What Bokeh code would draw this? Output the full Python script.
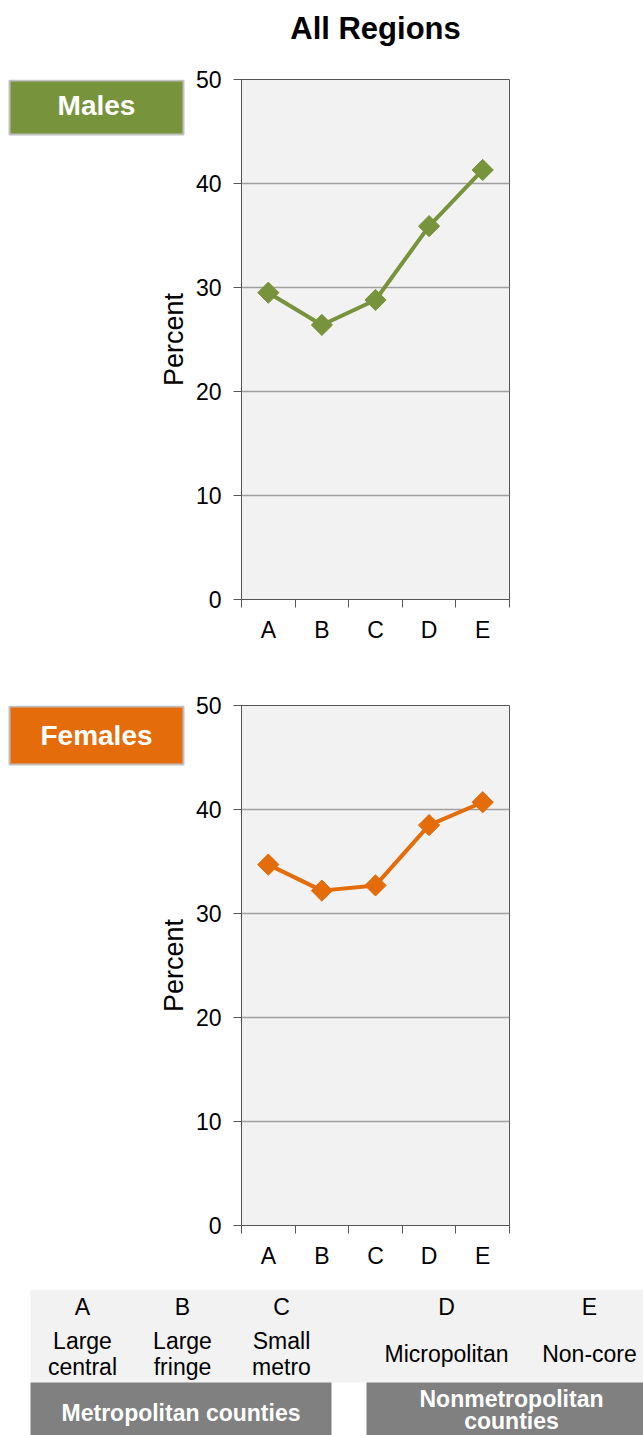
import numpy as np
from bokeh.plotting import figure
from bokeh.models import Range1d, FixedTicker
from bokeh.layouts import column, row
from bokeh.core.properties import value
from bokeh.embed import file_html
from bokeh.resources import INLINE

# ---- data ----
categories = ["A", "B", "C", "D", "E"]
males = [29.5, 26.4, 28.8, 35.9, 41.3]
females = [34.7, 32.2, 32.7, 38.5, 40.7]
y_ticks = [0, 10, 20, 30, 40, 50]
title_text = "All Regions"
panel_names = ["Males", "Females"]
y_label = "Percent"
table_letters = ["A", "B", "C", "D", "E"]
table_line1 = ["Large", "Large", "Small"]
table_line2 = ["central", "fringe", "metro"]
table_single = ["Micropolitan", "Non-core"]
group_labels = ["Metropolitan counties", "Nonmetropolitan", "counties"]

FONT = "Liberation Sans"
GREEN = "#77933c"
ORANGE = "#e46c0a"
xpos = [i + 0.5 for i in range(len(categories))]

SIDE_W = 191
HEAD_H = 60


def blank(width, height, xr, yr, top=0, bottom=0):
    f = figure(width=width, height=height, x_range=xr, y_range=yr,
               output_backend="svg", toolbar_location=None,
               x_axis_location=None, y_axis_location=None,
               min_border_left=0, min_border_right=0,
               min_border_top=top, min_border_bottom=bottom)
    f.outline_line_color = None
    f.xgrid.visible = False
    f.ygrid.visible = False
    f.background_fill_color = "white"
    f.border_fill_color = "white"
    return f


def make_side(name, color, height, top, bottom, box_top, box_bottom, box_mid):
    s = blank(SIDE_W, height, Range1d(0, SIDE_W), Range1d(0, 520), top, bottom)
    s.quad(left=[9], right=[183], top=[box_top], bottom=[box_bottom],
           fill_color=color, line_color="#c0c0c0", line_width=2)
    s.text(x=[96], y=[box_mid], text=[name], text_align="center", text_baseline="middle",
           text_font=value(FONT), text_font_size="28px", text_font_style="bold",
           text_color="white")
    s.text(x=[173], y=[260], text=[y_label], angle=np.pi / 2, text_align="center",
           text_baseline="middle", text_font=value(FONT), text_font_size="27px",
           text_color="black")
    return s


def make_chart(vals, color, height, top, bottom):
    p = figure(width=643 - SIDE_W, height=height, x_range=Range1d(0, len(categories)),
               y_range=Range1d(0, 50), output_backend="svg", toolbar_location=None,
               min_border_left=241 - SIDE_W, min_border_right=134,
               min_border_top=top, min_border_bottom=bottom)
    p.background_fill_color = "#f2f2f2"
    p.border_fill_color = "white"
    p.outline_line_color = "#555555"
    p.outline_line_width = 1

    ya = p.yaxis[0]
    ya.ticker = FixedTicker(ticks=y_ticks)
    ya.major_tick_out = 8
    ya.major_tick_in = 0
    ya.minor_tick_out = 0
    ya.minor_tick_in = 0
    ya.axis_line_color = "#555555"
    ya.major_tick_line_color = "#555555"
    ya.major_label_text_font = FONT
    ya.major_label_text_font_size = "23px"
    ya.major_label_text_color = "black"
    ya.major_label_standoff = 12

    xa = p.xaxis[0]
    xa.ticker = FixedTicker(ticks=xpos, minor_ticks=list(range(len(categories) + 1)))
    xa.major_label_overrides = {x: c for x, c in zip(xpos, categories)}
    xa.major_tick_out = 0
    xa.major_tick_in = 0
    xa.minor_tick_out = 8
    xa.minor_tick_in = 0
    xa.axis_line_color = "#555555"
    xa.minor_tick_line_color = "#555555"
    xa.major_label_text_font = FONT
    xa.major_label_text_font_size = "23px"
    xa.major_label_text_color = "black"
    xa.major_label_standoff = 9

    p.xgrid.visible = False
    p.ygrid.ticker = FixedTicker(ticks=y_ticks)
    p.ygrid.grid_line_color = "#a0a0a0"
    p.ygrid.grid_line_width = 1.5

    p.line(xpos, vals, line_width=4, line_color=color)
    p.scatter(xpos, vals, marker="square", angle=np.pi / 4, size=15,
              fill_color=color, line_color=color)
    return p


# ---- header with the title ----
h = blank(643, HEAD_H, Range1d(0, 643), Range1d(HEAD_H, 0))
h.text(x=[375], y=[28], text=[title_text], text_align="center", text_baseline="middle",
       text_font=value(FONT), text_font_size="31px", text_font_style="bold",
       text_color="black")

# frame of top chart: y 79..599 ; bottom chart: y 705..1225 (page pixels)
top1 = 79 - HEAD_H
s1 = make_side(panel_names[0], GREEN, 655 - HEAD_H, top1, 56, 519, 465, 494)
p1 = make_chart(males, GREEN, 655 - HEAD_H, top1, 56)
s2 = make_side(panel_names[1], ORANGE, 634, 50, 64, 519, 461, 490)
p2 = make_chart(females, ORANGE, 634, 50, 64)

# ---- bottom key table (y measured down from its top) ----
t = blank(643, 146, Range1d(0, 643), Range1d(146, 0))
t.quad(left=[30], right=[650], top=[0], bottom=[93], fill_color="#f2f2f2", line_color=None)
t.quad(left=[30, 366], right=[331, 650], top=[93, 93], bottom=[160, 160],
       fill_color="#808080", line_color=None)

col_x = [82, 182, 281, 446, 589]
txt = dict(text_align="center", text_baseline="middle", text_font=value(FONT),
           text_font_size="23px", text_color="black")
t.text(x=col_x, y=[17] * 5, text=table_letters, **txt)
t.text(x=col_x[:3], y=[51] * 3, text=table_line1, **txt)
t.text(x=col_x[:3], y=[77] * 3, text=table_line2, **txt)
t.text(x=col_x[3:], y=[64, 64], text=table_single, **txt)
t.text(x=[180.5, 511, 511], y=[123, 109, 131], text=group_labels,
       text_align="center", text_baseline="middle", text_font=value(FONT),
       text_font_size="23px", text_font_style="bold", text_color="white")

charts = column(row(s1, p1, spacing=0), row(s2, p2, spacing=0), spacing=0)
open("out.html", "w").write(file_html([h, charts, t], INLINE))
